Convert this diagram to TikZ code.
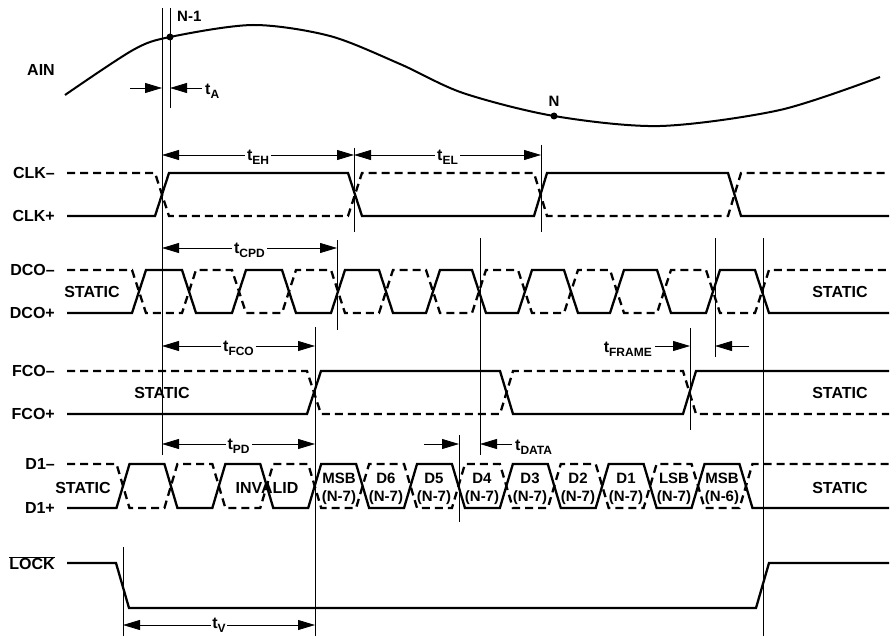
\documentclass[tikz,border=0pt]{standalone}
\usepackage{fontspec}
\setmainfont{Liberation Sans}
\usetikzlibrary{arrows.meta}

\newcommand{\labelfont}{\fontsize{16}{18}\selectfont\bfseries}
\newcommand{\busfont}{\fontsize{15}{18}\selectfont\bfseries}
\newcommand{\tsub}[1]{t\raisebox{-0.45ex}{\fontsize{12}{13}\selectfont #1}}

\tikzset{
    sig/.style={line width=2.3pt},
    cmp/.style={sig, dash pattern=on 8pt off 5pt},
    guide/.style={line width=0.8pt},
    dim/.style={line width=0.8pt},
    both/.style={dim, arrows={Triangle[length=17pt,width=10pt]-Triangle[length=17pt,width=10pt]}},
    one/.style={dim, arrows={-Triangle[length=17pt,width=10pt]}},
    sname/.style={font=\labelfont, anchor=east, inner sep=0pt},
    txt/.style={font=\labelfont, inner sep=1pt},
    bus/.style={font=\busfont, align=center, inner sep=0pt},
    dimlbl/.style={font=\labelfont, fill=white, inner sep=2pt},
    dotm/.style={circle, fill, inner sep=0pt, minimum size=7pt}
}

\begin{document}
\begin{tikzpicture}[x=1pt, y=-1pt]

    \useasboundingbox (0,0) rectangle (891,636);

    % signal names
    \node[sname] (ain)  at (55,70)  {AIN};
    \node[sname] (clkn) at (55,173) {CLK–};
    \node[sname] (clkp) at (55,216) {CLK+};
    \node[sname] (dcon) at (55,270) {DCO–};
    \node[sname] (dcop) at (55,313) {DCO+};
    \node[sname] (fcon) at (55,371) {FCO–};
    \node[sname] (fcop) at (55,414) {FCO+};
    \node[sname] (don)  at (55,464) {D1–};
    \node[sname] (dop)  at (55,508) {D1+};
    \node[sname] (lock) at (55,563) {$\overline{\mbox{LOCK}}$};

    % marker lines
    \coordinate (mS)  at (162,0);
    \coordinate (mA)  at (170,0);
    \coordinate (mH)  at (354,0);
    \coordinate (mL)  at (541,0);
    \coordinate (mC)  at (337,0);
    \coordinate (mF)  at (315,0);
    \coordinate (mD1) at (459,0);
    \coordinate (mD2) at (480,0);
    \coordinate (mR1) at (690,0);
    \coordinate (mR2) at (715,0);
    \coordinate (mE)  at (763,0);
    \coordinate (mV)  at (123,0);

    \draw[guide] (mS |- 0,8) -- (mS |- 0,455);
    \draw[guide] (mA |- 0,8) -- (mA |- 0,108);
    \draw[guide] (mH |- 0,148) -- (mH |- 0,232);
    \draw[guide] (mL |- 0,145) -- (mL |- 0,232);
    \draw[guide] (mC |- 0,240) -- (mC |- 0,330);
    \draw[guide] (mF |- 0,327) -- (mF |- 0,636);
    \draw[guide] (mD1 |- 0,435) -- (mD1 |- 0,522);
    \draw[guide] (mD2 |- 0,238) -- (mD2 |- 0,455);
    \draw[guide] (mR1 |- 0,328) -- (mR1 |- 0,430);
    \draw[guide] (mR2 |- 0,238) -- (mR2 |- 0,357);
    \draw[guide] (mE |- 0,238) -- (mE |- 0,636);
    \draw[guide] (mV |- 0,547) -- (mV |- 0,636);

    % analog input
    \draw[line width=2pt] plot[smooth] coordinates {(65,95) (133,50) (170,37)
        (253,25) (330,36) (400,64) (463,93) (554,116) (660,126) (780,110) (880,77)};
    \node[dotm] (smpA) at (170,37) {};
    \node[dotm] (smpB) at (554,116) {};
    \node[txt, anchor=west, font=\fontsize{15}{17}\selectfont\bfseries] (smpAl) at (176,16) {N-1};
    \node[txt, font=\fontsize{15}{17}\selectfont\bfseries] (smpBl) at (554,101) {N};

    % clock
    \draw[sig] (67,216) -- (155,216) -- (169,173) -- (348,173) -- (362,216)
        -- (534,216) -- (547,173) -- (728,173) -- (741,216) -- (889,216);
    \draw[cmp] (67,173) -- (155,173) -- (169,216) -- (348,216) -- (362,173)
        -- (534,173) -- (547,216) -- (728,216) -- (741,173) -- (889,173);

    % data clock
    \draw[sig] (67,313) foreach \t [count=\i] in {139,189,239,289,338,386,433,479,525,571,617,664,713,762} {
        -- (\t-7,{270+43*mod(\i,2)}) -- (\t+7,{313-43*mod(\i,2)})
    } -- (889,313);
    \draw[cmp] (67,270) foreach \t [count=\i] in {139,189,239,289,338,386,433,479,525,571,617,664,713,762} {
        -- (\t-7,{313-43*mod(\i,2)}) -- (\t+7,{270+43*mod(\i,2)})
    } -- (889,270);
    \node[txt] (dcoL) at (92,292) {STATIC};
    \node[txt] (dcoR) at (840,292) {STATIC};

    % frame clock
    \draw[sig] (67,414) -- (307,414) -- (321,371) -- (500,371) -- (513,414)
        -- (683,414) -- (696,371) -- (889,371);
    \draw[cmp] (67,371) -- (307,371) -- (321,414) -- (500,414) -- (513,371)
        -- (683,371) -- (696,414) -- (889,414);
    \node[txt] (fcoL) at (162,393) {STATIC};
    \node[txt] (fcoR) at (840,393) {STATIC};

    % data out
    \draw[sig] (67,508) foreach \i in {0,...,13} {
        -- ({116.5+47.92*\i},{508-44*mod(\i,2)}) -- ({129.5+47.92*\i},{464+44*mod(\i,2)})
    } -- (889,508);
    \draw[cmp] (67,464) foreach \i in {0,...,13} {
        -- ({116.5+47.92*\i},{464+44*mod(\i,2)}) -- ({129.5+47.92*\i},{508-44*mod(\i,2)})
    } -- (889,464);
    \node[txt] (dL) at (83,488) {STATIC};
    \node[txt] (dR) at (840,488) {STATIC};
    \node[txt] (inv) at (267,488) {INVALID};
    \foreach \x/\b/\n [count=\k] in {339/MSB/7, 386/D6/7, 434/D5/7, 482/D4/7,
        530/D3/7, 578/D2/7, 626/D1/7, 674/LSB/7, 722/MSB/6}
        \node[bus] (w\k) at (\x,489) {\b\\(N-\n)};

    % lock
    \draw[sig] (67,563) -- (116,563) -- (129,608) -- (756,608) -- (769,563) -- (889,563);

    % timing arrows
    \draw[one] (130,88) -- (mS |- 0,88);
    \draw[one] (202,88) -- (mA |- 0,88);
    \node[txt, anchor=west] (tA) at (204,91) {\tsub{A}};

    \draw[both] (mS |- 0,155) -- (mH |- 0,155)
        node[midway, dimlbl, yshift=-2pt] (tEH) {\tsub{EH}};
    \draw[both] (mH |- 0,155) -- (mL |- 0,155)
        node[midway, dimlbl, yshift=-2pt] (tEL) {\tsub{EL}};
    \draw[both] (mS |- 0,248) -- (mC |- 0,248)
        node[midway, dimlbl, yshift=-2pt] (tCPD) {\tsub{CPD}};
    \draw[both] (mS |- 0,346) -- (mF |- 0,346)
        node[midway, dimlbl, yshift=-2pt] (tFCO) {\tsub{FCO}};
    \draw[both] (mS |- 0,444) -- (mF |- 0,444)
        node[midway, dimlbl, yshift=-2pt] (tPD) {\tsub{PD}};
    \draw[both] (mV |- 0,625) -- (mF |- 0,625)
        node[midway, dimlbl, inner sep=1pt] (tV) {\tsub{V}};

    \draw[one] (424,444) -- (mD1 |- 0,444);
    \draw[one] (512,444) -- (mD2 |- 0,444);
    \node[txt, anchor=west] (tDATA) at (514,447) {\tsub{DATA}};

    \draw[one] (655,346) -- (mR1 |- 0,346);
    \draw[one] (749,346) -- (mR2 |- 0,346);
    \node[txt, anchor=east] (tFRAME) at (653,349) {\tsub{FRAME}};

\end{tikzpicture}
\end{document}
